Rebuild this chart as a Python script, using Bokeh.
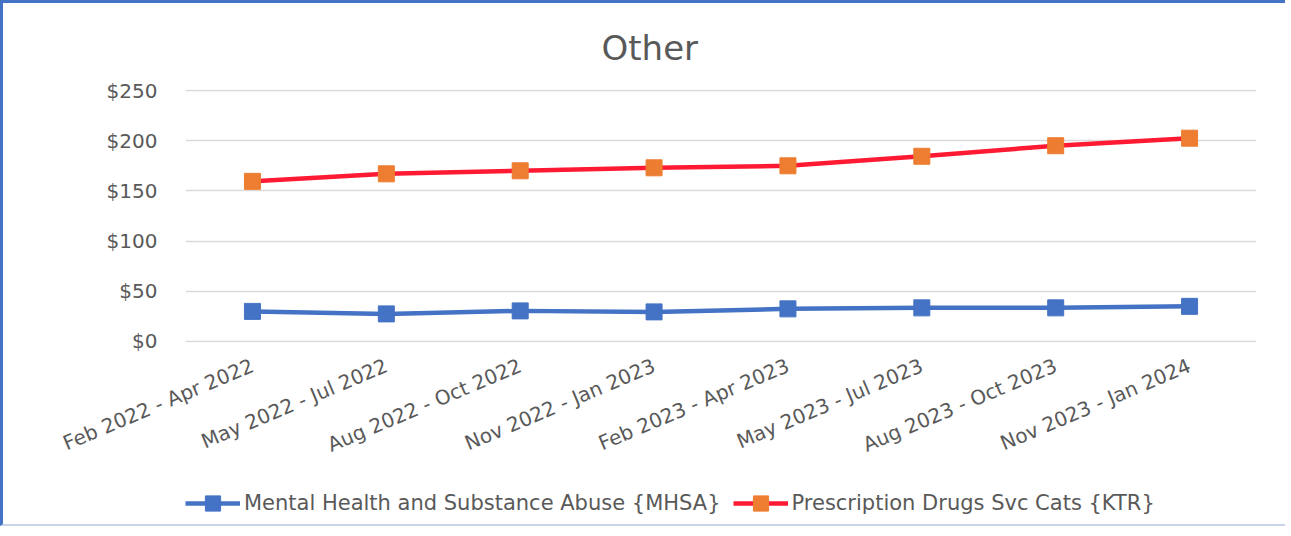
from bokeh.plotting import figure
from bokeh.layouts import column
from bokeh.models import (FactorRange, Range1d, NumeralTickFormatter, Legend, LegendItem,
                          FixedTicker)
from bokeh.embed import file_html
from bokeh.resources import INLINE

periods = ["Feb 2022 - Apr 2022", "May 2022 - Jul 2022", "Aug 2022 - Oct 2022",
           "Nov 2022 - Jan 2023", "Feb 2023 - Apr 2023", "May 2023 - Jul 2023",
           "Aug 2023 - Oct 2023", "Nov 2023 - Jan 2024"]
mhsa = [30, 27.5, 30.5, 29.5, 32.5, 33.5, 33.5, 35]
ktr = [159.5, 167, 170, 173, 175, 184.5, 195, 202.5]
y_ticks = [0, 50, 100, 150, 200, 250]
series = [("Mental Health and Substance Abuse {MHSA}", mhsa, "#4472C4", "#4472C4"),
          ("Prescription Drugs Svc Cats {KTR}", ktr, "#FF1A33", "#ED7D31")]

FONT = "DejaVu Sans"
GRAY = "#595959"
BLUE_BORDER = "3px solid #4472C4"

p = figure(width=1285, height=470, x_range=FactorRange(*periods), y_range=Range1d(-1, 251),
           output_backend="svg", toolbar_location=None,
           min_border_left=182, min_border_right=32, min_border_top=86, min_border_bottom=131)
p.styles = {"border-left": BLUE_BORDER, "border-top": BLUE_BORDER}
p.title.text = "Other"
p.title.align = "left"
p.title.offset = 416
p.title.text_font = FONT
p.title.text_font_size = "34px"
p.title.text_font_style = "normal"
p.title.text_color = GRAY
p.title.standoff = 43

p.outline_line_color = None
p.background_fill_color = "white"
p.border_fill_color = "white"
p.xgrid.grid_line_color = None
p.ygrid.grid_line_color = "#D9D9D9"
p.ygrid.grid_line_width = 1.5

p.yaxis.ticker = FixedTicker(ticks=y_ticks)
p.yaxis.formatter = NumeralTickFormatter(format="$0")
for ax in (p.xaxis[0], p.yaxis[0]):
    ax.axis_line_color = None
    ax.major_tick_line_color = None
    ax.minor_tick_line_color = None
    ax.major_label_text_font = FONT
    ax.major_label_text_font_size = "20px"
    ax.major_label_text_color = GRAY
p.yaxis.major_label_standoff = 22
p.xaxis.major_label_orientation = 0.40
p.xaxis.major_label_standoff = 16

for name, vals, lc, mc in series:
    p.line(periods, vals, line_color=lc, line_width=4.5)
    p.scatter(periods, vals, marker="square", size=16, fill_color=mc, line_color=mc)

# legend strip: same series, drawn on a range where only the legend is visible
p2 = figure(width=1285, height=56, x_range=FactorRange(*periods), y_range=Range1d(-1000, -999),
            output_backend="svg", toolbar_location=None, min_border=0)
p2.styles = {"border-left": BLUE_BORDER, "border-bottom": "2px solid #C9D3E8"}
p2.axis.visible = False
p2.grid.visible = False
p2.outline_line_color = None
p2.background_fill_color = "white"
p2.border_fill_color = "white"
items = []
for name, vals, lc, mc in series:
    r1 = p2.line(periods, vals, line_color=lc, line_width=4.5)
    r2 = p2.scatter(periods, vals, marker="square", size=16, fill_color=mc, line_color=mc)
    items.append(LegendItem(label=name, renderers=[r1, r2]))
legend = Legend(items=items, orientation="horizontal", location=(0, 4), padding=0, margin=0,
                spacing=12, glyph_width=55, glyph_height=38, label_standoff=4,
                label_text_font=FONT, label_text_font_size="21px", label_text_color=GRAY,
                border_line_color=None, background_fill_alpha=0)
p2.add_layout(legend, "center")

open("out.html", "w").write(file_html(column(p, p2, spacing=0), INLINE))
